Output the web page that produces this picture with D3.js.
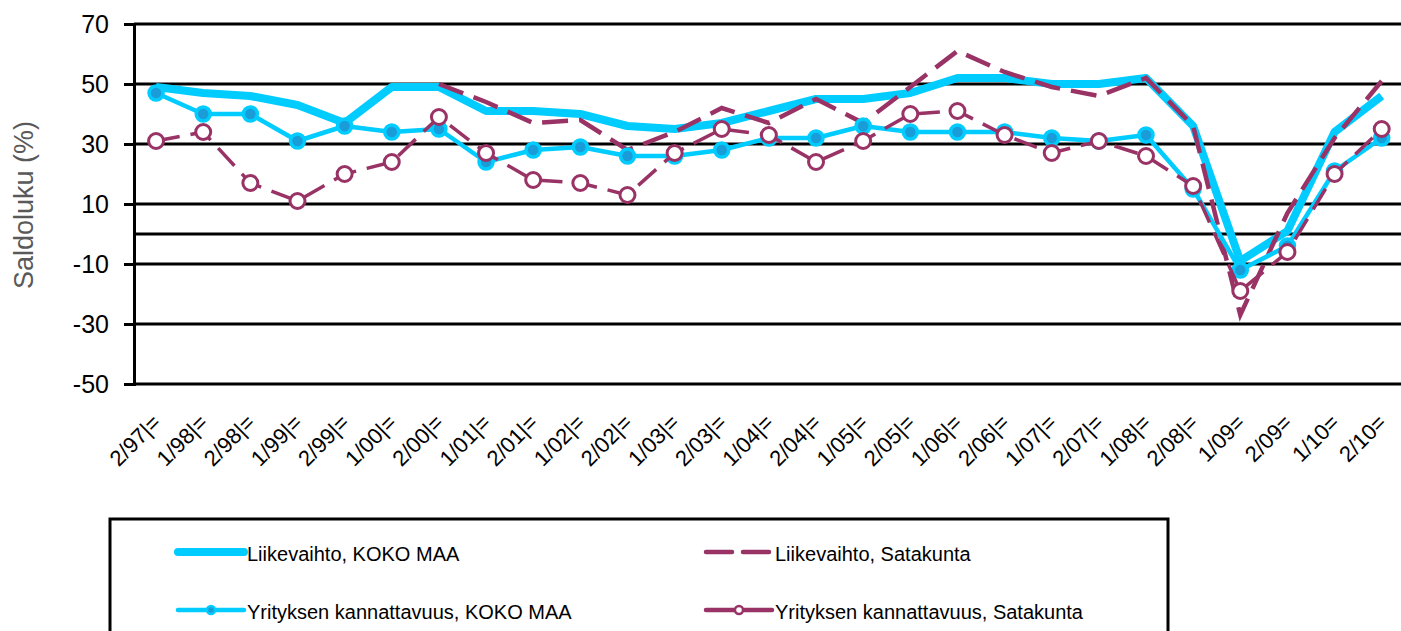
<!DOCTYPE html>
<html>
<head>
<meta charset="utf-8">
<script src="https://cdn.jsdelivr.net/npm/d3@7"></script>
<style>
  html, body { margin: 0; padding: 0; background: #fff; overflow: hidden; }
  svg { display: block; font-family: "Liberation Sans", Arial, sans-serif; }
</style>
</head>
<body>
<div id="chart"></div>
<script>
// Saldoluvut, half-year survey periods
const categories = ['2/97|=', '1/98|=', '2/98|=', '1/99|=', '2/99|=', '1/00|=', '2/00|=',
  '1/01|=', '2/01|=', '1/02|=', '2/02|=', '1/03|=', '2/03|=', '1/04|=', '2/04|=',
  '1/05|=', '2/05|=', '1/06|=', '2/06|=', '1/07|=', '2/07|=', '1/08|=', '2/08|=',
  '1/09=', '2/09=', '1/10=', '2/10='];

const liikevaihtoKoko = [49, 47, 46, 43, 37, 49, 49, 41, 41, 40, 36, 35, 37, 41, 45,
  45, 47, 52, 52, 50, 50, 52, 36, -9, 1, 34, 46];
const liikevaihtoSatakunta = [null, null, null, null, null, null, 50, 44, 37, 38, 28, 34, 42, 37, 45,
  37, 49, 61, 54, 49, 46, 52, 36, -27, 7, 32, 51];
const kannattavuusKoko = [47, 40, 40, 31, 36, 34, 35, 24, 28, 29, 26, 26, 28, 32, 32,
  36, 34, 34, 34, 32, 31, 33, 15, -12, -4, 21, 32];
const kannattavuusSatakunta = [31, 34, 17, 11, 20, 24, 39, 27, 18, 17, 13, 27, 35, 33, 24,
  31, 40, 41, 33, 27, 31, 26, 16, -19, -6, 20, 35];

const yTicks = [-50, -30, -10, 10, 30, 50, 70];
const gridValues = [-50, -30, -10, 0, 10, 30, 50, 70];
const legendLabels = ['Liikevaihto, KOKO MAA', 'Liikevaihto, Satakunta',
  'Yrityksen kannattavuus, KOKO MAA', 'Yrityksen kannattavuus, Satakunta'];

const CYAN = '#00ccff';
const CYAN_DARK = '#1a9cd8';
const PLUM = '#993366';

const width = 1401;
const height = 631;
const left = 134;

const svg = d3.select('#chart')
  .append('svg')
  .attr('width', width)
  .attr('height', height);

const x = d3.scaleBand()
  .domain(categories)
  .range([132.5, 132.5 + 27 * 47.14])
  .padding(0);

const y = d3.scaleLinear()
  .domain([-50, 70])
  .range([384, 24]);

const cx = d => x(d) + x.bandwidth() / 2;

// gridlines
svg.append('g')
  .selectAll('line')
  .data(gridValues)
  .join('line')
  .attr('x1', left)
  .attr('x2', width)
  .attr('y1', d => y(d))
  .attr('y2', d => y(d))
  .attr('stroke', '#000')
  .attr('stroke-width', 3);

// y axis
const yAxis = svg.append('g')
  .attr('transform', `translate(${left},0)`)
  .call(d3.axisLeft(y).tickValues(yTicks).tickSize(10).tickPadding(15).tickFormat(d => String(d)));
yAxis.select('.domain').attr('stroke', '#000').attr('stroke-width', 3);
yAxis.selectAll('.tick line').attr('stroke', '#000').attr('stroke-width', 3);
yAxis.selectAll('.tick text')
  .attr('font-size', 25)
  .attr('font-family', '"Liberation Sans", Arial, sans-serif')
  .attr('fill', '#000');

// x axis labels
const xAxis = svg.append('g')
  .attr('transform', `translate(0,${y(-50)})`)
  .call(d3.axisBottom(x).tickSize(0).tickPadding(0));
xAxis.select('.domain').remove();
xAxis.selectAll('.tick text')
  .attr('font-size', 22)
  .attr('font-family', '"Liberation Sans", Arial, sans-serif')
  .attr('fill', '#000')
  .attr('text-anchor', 'end')
  .attr('dy', 0)
  .attr('y', 0)
  .attr('transform', 'translate(6,40) rotate(-45)');

// y title
svg.append('text')
  .attr('transform', 'translate(33,205) rotate(-90)')
  .attr('text-anchor', 'middle')
  .attr('font-size', 27)
  .attr('fill', '#595959')
  .text('Saldoluku (%)');

const line = d3.line()
  .defined(d => d.v !== null)
  .x(d => cx(d.c))
  .y(d => y(d.v));

const pts = arr => categories.map((c, i) => ({ c, v: arr[i] }));

// series 1: thick cyan
svg.append('path')
  .datum(pts(liikevaihtoKoko))
  .attr('d', line)
  .attr('fill', 'none')
  .attr('stroke', CYAN)
  .attr('stroke-width', 8)
  .attr('stroke-linejoin', 'round');

// series 2: dashed plum
svg.append('path')
  .datum(pts(liikevaihtoSatakunta))
  .attr('d', line)
  .attr('fill', 'none')
  .attr('stroke', PLUM)
  .attr('stroke-width', 4.5)
  .attr('stroke-dasharray', '26,11');

// series 3: thin cyan with filled markers
svg.append('path')
  .datum(pts(kannattavuusKoko))
  .attr('d', line)
  .attr('fill', 'none')
  .attr('stroke', CYAN)
  .attr('stroke-width', 4.5)
  .attr('stroke-linejoin', 'round');
svg.append('g')
  .selectAll('circle')
  .data(pts(kannattavuusKoko))
  .join('circle')
  .attr('cx', d => cx(d.c))
  .attr('cy', d => y(d.v))
  .attr('r', 7)
  .attr('fill', CYAN_DARK)
  .attr('stroke', CYAN)
  .attr('stroke-width', 3.5);

// series 4: dashed plum with hollow markers
svg.append('path')
  .datum(pts(kannattavuusSatakunta))
  .attr('d', line)
  .attr('fill', 'none')
  .attr('stroke', PLUM)
  .attr('stroke-width', 3.5)
  .attr('stroke-dasharray', '24,11');
svg.append('g')
  .selectAll('circle')
  .data(pts(kannattavuusSatakunta))
  .join('circle')
  .attr('cx', d => cx(d.c))
  .attr('cy', d => y(d.v))
  .attr('r', 7.5)
  .attr('fill', '#fff')
  .attr('stroke', PLUM)
  .attr('stroke-width', 3);

// legend
const legend = svg.append('g');
legend.append('rect')
  .attr('x', 110)
  .attr('y', 519)
  .attr('width', 1058)
  .attr('height', 140)
  .attr('fill', '#fff')
  .attr('stroke', '#000')
  .attr('stroke-width', 3);

const legendItems = [
  { x: 178, y: 552, color: CYAN, w: 8, dash: null, marker: null },
  { x: 706, y: 552, color: PLUM, w: 4.5, dash: '26,11', marker: null },
  { x: 178, y: 610, color: CYAN, w: 4.5, dash: null, marker: 'filled' },
  { x: 706, y: 610, color: PLUM, w: 4.5, dash: null, marker: 'hollow' }
];

legendItems.forEach((item, i) => {
  const g = legend.append('g');
  g.append('line')
    .attr('x1', item.x)
    .attr('x2', item.x + 66)
    .attr('y1', item.y)
    .attr('y2', item.y)
    .attr('stroke', item.color)
    .attr('stroke-width', item.w)
    .attr('stroke-linecap', 'round')
    .attr('stroke-dasharray', item.dash);
  if (item.marker) {
    g.append('circle')
      .attr('cx', item.x + 33)
      .attr('cy', item.y)
      .attr('r', 4)
      .attr('fill', item.marker === 'filled' ? CYAN_DARK : '#fff')
      .attr('stroke', item.color)
      .attr('stroke-width', 2.5);
  }
  g.append('text')
    .attr('x', item.x + 69)
    .attr('y', item.y + 9)
    .attr('font-size', 20)
    .attr('fill', '#000')
    .text(legendLabels[i]);
});
</script>
</body>
</html>
